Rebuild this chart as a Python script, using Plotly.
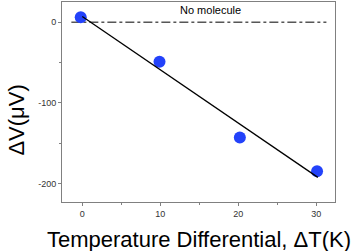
import plotly.graph_objects as go

temp_diff = [-0.2, 9.9, 20.2, 30.1]
delta_v = [6, -49, -143, -185]
fit_x = [0.0, 30.2]
fit_y = [7, -192.5]
ref_x = [-1.4, 31.3]
ref_y = [0, 0]
x_ticks = [0, 10, 20, 30]
x_labels = ["0", "10", "20", "30"]
y_ticks = [0, -100, -200]
y_labels = ["0", "-100", "-200"]

fig = go.Figure()
fig.add_trace(go.Scatter(x=ref_x, y=ref_y, mode="lines",
                         line=dict(color="black", width=1, dash="dashdot"), hoverinfo="skip"))
fig.add_trace(go.Scatter(x=temp_diff, y=delta_v, mode="markers",
                         marker=dict(color="#2342fa", size=12)))
fig.add_trace(go.Scatter(x=fit_x, y=fit_y, mode="lines",
                         line=dict(color="black", width=1.3)))
fig.add_annotation(x=0.545, y=1.0, xref="paper", yref="paper", text="No molecule",
                   showarrow=False, xanchor="center", yanchor="top",
                   font=dict(size=11, color="black", family="Liberation Sans"))
fig.add_annotation(x=-0.17, y=0.41, xref="paper", yref="paper", text="ΔV(μV)",
                   showarrow=False, textangle=-90, xanchor="center", yanchor="middle",
                   font=dict(size=22, color="black", family="Liberation Sans"))
fig.add_annotation(x=0.5, y=-0.185, xref="paper", yref="paper",
                   text="Temperature Differential, ΔT(K)",
                   showarrow=False, xanchor="center", yanchor="middle",
                   font=dict(size=22, color="black", family="Liberation Sans"))

axis_common = dict(showgrid=False, zeroline=False, showline=True, linecolor="#808080",
                   linewidth=1, mirror=True, ticks="outside", ticklen=3, tickcolor="#808080",
                   automargin=False,
                   tickfont=dict(size=9, color="#333333", family="Liberation Sans"))
fig.update_xaxes(range=[-2.6, 32.4], tickvals=x_ticks, ticktext=x_labels,
                 minor=dict(tickvals=[5, 15, 25], ticks="outside", ticklen=2, tickcolor="#808080"),
                 **axis_common)
fig.update_yaxes(range=[-223, 25], tickvals=y_ticks, ticktext=y_labels,
                 minor=dict(tickvals=[-50, -150], ticks="outside", ticklen=2, tickcolor="#808080"),
                 **axis_common)
fig.update_layout(width=354, height=251, showlegend=False,
                  margin=dict(l=62, r=19, t=2, b=49),
                  plot_bgcolor="white", paper_bgcolor="white")
fig.write_html("out.html", config={"displayModeBar": False},
               post_script="document.body.style.margin='0px';")
